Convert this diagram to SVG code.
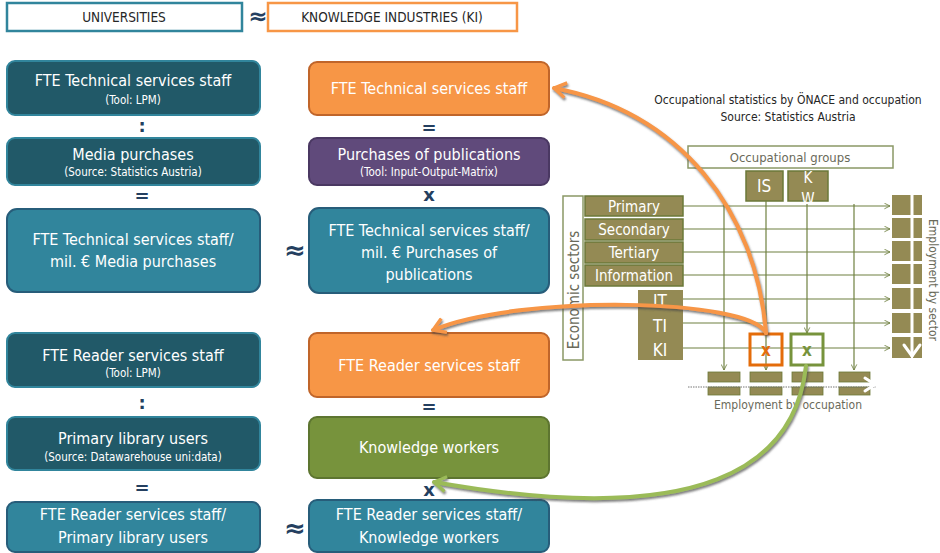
<svg xmlns="http://www.w3.org/2000/svg" width="940" height="553" viewBox="0 0 940 553">
<style>
text{font-family:"Liberation Sans Narrow","DejaVu Sans Condensed","Liberation Sans",sans-serif;text-anchor:middle}
.w{fill:#fff;font-size:16px}
.ws{fill:#fff;font-size:11.5px}
.op{fill:#243f60;font-size:18px;font-weight:bold;font-family:"DejaVu Sans",sans-serif}
.hd{fill:#262626;font-size:13.5px}
.dk{fill:#215968;stroke:#31859c;stroke-width:2}
.md{fill:#31859c;stroke:#275d7a;stroke-width:2}
.or{fill:#f79646;stroke:#c0652a;stroke-width:2}
.pu{fill:#604a7b;stroke:#4a3862;stroke-width:2}
.gr{fill:#77933c;stroke:#5d7530;stroke-width:2}
.ol{fill:#948a54;stroke:#6b7838;stroke-width:1.5}
.olt{fill:#fff;font-size:15px}
.frame{fill:#fff;stroke:#8a9866;stroke-width:1.5}
.grid{stroke:#6f8040;stroke-width:1.2;fill:none}
.gt{fill:#6a6a5a;font-size:13px}
.cap{fill:#262626;font-size:12px}
</style>
<defs>
<marker id="ah" viewBox="0 0 10 10" refX="9" refY="5" markerWidth="7" markerHeight="7" orient="auto" markerUnits="userSpaceOnUse">
<path d="M1,1 L9,5 L1,9" fill="none" stroke="#6f8040" stroke-width="1.2"/>
</marker>
<marker id="ao" viewBox="0 0 12 12" refX="10" refY="6" markerWidth="18" markerHeight="18" orient="auto" markerUnits="userSpaceOnUse">
<path d="M2,1 L10,6 L2,11" fill="none" stroke="#f79646" stroke-width="2.2" stroke-linejoin="round"/>
</marker>
<marker id="ag" viewBox="0 0 12 12" refX="10" refY="6" markerWidth="18" markerHeight="18" orient="auto" markerUnits="userSpaceOnUse">
<path d="M2,1 L10,6 L2,11" fill="none" stroke="#9bbb59" stroke-width="2.2" stroke-linejoin="round"/>
</marker>
<filter id="sh" x="-10%" y="-10%" width="120%" height="120%">
<feDropShadow dx="1" dy="2" stdDeviation="0.8" flood-color="#444" flood-opacity="0.7"/>
</filter>
</defs>

<g id="header">
<rect x="7" y="3" width="235" height="28" fill="#fff" stroke="#31859c" stroke-width="2.5"/>
<text class="hd" x="124" y="22">UNIVERSITIES</text>
<text class="op" x="258" y="24" style="font-size:23px">≈</text>
<rect x="268" y="3" width="249" height="28" fill="#fff" stroke="#f79646" stroke-width="2.5"/>
<text class="hd" x="392" y="22">KNOWLEDGE INDUSTRIES (KI)</text>
</g>

<g id="uni-tech-staff"><rect class="dk" x="7" y="61" width="253" height="54" rx="8"/><text class="w" x="133" y="86">FTE Technical services staff</text><text class="ws" x="133" y="104">(Tool: LPM)</text></g>
<text class="op" x="142" y="132">:</text>
<g id="uni-media"><rect class="dk" x="7" y="138" width="253" height="47" rx="8"/><text class="w" x="133" y="160">Media purchases</text><text class="ws" x="133" y="176">(Source: Statistics Austria)</text></g>
<text class="op" x="142" y="202">=</text>
<g id="uni-ratio1"><rect class="md" x="7" y="209" width="253" height="83" rx="10"/><text class="w" x="133" y="245">FTE Technical services staff/</text><text class="w" x="133" y="267">mil. € Media purchases</text></g>
<text class="op" x="295" y="259" style="font-size:26px">≈</text>

<g id="ki-tech-staff"><rect class="or" x="309" y="62" width="240" height="53" rx="8"/><text class="w" x="429" y="94">FTE Technical services staff</text></g>
<text class="op" x="429" y="134">=</text>
<g id="ki-publications"><rect class="pu" x="309" y="138" width="240" height="47" rx="8"/><text class="w" x="429" y="160">Purchases of publications</text><text class="ws" x="429" y="176">(Tool: Input-Output-Matrix)</text></g>
<text class="op" x="429" y="201">x</text>
<g id="ki-ratio1"><rect class="md" x="309" y="208" width="240" height="85" rx="10"/><text class="w" x="429" y="236">FTE Technical services staff/</text><text class="w" x="429" y="258">mil. € Purchases of</text><text class="w" x="429" y="280">publications</text></g>

<g id="uni-reader-staff"><rect class="dk" x="7" y="333" width="253" height="54" rx="8"/><text class="w" x="133" y="361">FTE Reader services staff</text><text class="ws" x="133" y="377">(Tool: LPM)</text></g>
<text class="op" x="142" y="409">:</text>
<g id="uni-users"><rect class="dk" x="7" y="417" width="253" height="53" rx="8"/><text class="w" x="133" y="444">Primary library users</text><text class="ws" x="133" y="461">(Source: Datawarehouse uni:data)</text></g>
<text class="op" x="142" y="494">=</text>
<g id="uni-ratio2"><rect class="md" x="7" y="502" width="253" height="50" rx="8"/><text class="w" x="133" y="520">FTE Reader services staff/</text><text class="w" x="133" y="543">Primary library users</text></g>
<text class="op" x="295" y="537" style="font-size:26px">≈</text>

<g id="ki-reader-staff"><rect class="or" x="309" y="333" width="240" height="64" rx="8"/><text class="w" x="429" y="371">FTE Reader services staff</text></g>
<text class="op" x="429" y="413">=</text>
<g id="ki-knowledge-workers"><rect class="gr" x="309" y="417" width="240" height="61" rx="8"/><text class="w" x="429" y="453">Knowledge workers</text></g>
<text class="op" x="429" y="496">x</text>
<g id="ki-ratio2"><rect class="md" x="309" y="500" width="240" height="52" rx="8"/><text class="w" x="429" y="520">FTE Reader services staff/</text><text class="w" x="429" y="543">Knowledge workers</text></g>

<g id="matrix">
<text class="cap" x="788" y="104">Occupational statistics by ÖNACE and occupation</text>
<text class="cap" x="788" y="121">Source: Statistics Austria</text>
<rect class="frame" x="688" y="146" width="205" height="22"/>
<text class="gt" x="790" y="162">Occupational groups</text>
<rect class="ol" x="746" y="171" width="37" height="30"/>
<text class="olt" x="764" y="192" style="font-size:17px">IS</text>
<rect class="ol" x="788" y="171" width="40" height="30"/>
<text class="olt" x="808" y="183">K</text>
<text class="olt" x="808" y="204">W</text>

<rect class="frame" x="563" y="196" width="20" height="164"/>
<text class="gt" transform="translate(579,290) rotate(-90)" style="font-size:15px">Economic sectors</text>
<rect class="ol" x="585" y="196" width="98" height="20"/><text class="olt" x="634" y="212">Primary</text>
<rect class="ol" x="585" y="219" width="98" height="21"/><text class="olt" x="634" y="235">Secondary</text>
<rect class="ol" x="585" y="242" width="98" height="21"/><text class="olt" x="634" y="258">Tertiary</text>
<rect class="ol" x="585" y="265" width="98" height="21"/><text class="olt" x="634" y="281">Information</text>
<rect x="638" y="290" width="45" height="70" fill="#948a54"/>
<text class="olt" x="660" y="307" style="font-size:17px">IT</text>
<text class="olt" x="660" y="332" style="font-size:17px">TI</text>
<text class="olt" x="660" y="356" style="font-size:17px">KI</text>

<g class="grid" marker-end="url(#ah)">
<line x1="683" y1="206" x2="890" y2="206"/>
<line x1="683" y1="229" x2="890" y2="229"/>
<line x1="683" y1="252" x2="890" y2="252"/>
<line x1="683" y1="275" x2="890" y2="275"/>
<line x1="683" y1="299" x2="890" y2="299"/>
<line x1="683" y1="323" x2="890" y2="323"/>
<line x1="683" y1="348" x2="890" y2="348"/>
<line x1="724" y1="204" x2="724" y2="370"/>
<line x1="766" y1="201" x2="766" y2="370"/>
<line x1="807" y1="204" x2="807" y2="333"/>
<line x1="854" y1="204" x2="854" y2="370"/>
</g>

<g fill="#948a54">
<rect x="892" y="195" width="19" height="20"/><rect x="913" y="195" width="9" height="20"/>
<rect x="892" y="218" width="19" height="20"/><rect x="913" y="218" width="9" height="20"/>
<rect x="892" y="241" width="19" height="20"/><rect x="913" y="241" width="9" height="20"/>
<rect x="892" y="264" width="19" height="20"/><rect x="913" y="264" width="9" height="20"/>
<rect x="892" y="288" width="19" height="21"/><rect x="913" y="288" width="9" height="21"/>
<rect x="892" y="313" width="19" height="20"/><rect x="913" y="313" width="9" height="20"/>
<rect x="892" y="337" width="19" height="21"/><rect x="913" y="337" width="9" height="21"/>
</g>
<g stroke="#fff" stroke-width="3" fill="none" stroke-linecap="round" stroke-linejoin="round">
<line x1="912" y1="193" x2="912" y2="356"/>
<path d="M904,345 L912,356 L920,345"/>
</g>
<text class="gt" transform="translate(929,280) rotate(90)" style="font-size:12px">Employment by sector</text>

<rect x="750" y="334" width="32" height="31" fill="none" stroke="#e46c0a" stroke-width="3"/>
<text x="766" y="356" fill="#e46c0a" font-size="17" font-weight="bold">x</text>
<rect x="791" y="334" width="32" height="31" fill="none" stroke="#77933c" stroke-width="3"/>
<text x="807" y="356" fill="#77933c" font-size="17" font-weight="bold">x</text>

<g fill="#948a54" stroke="#6b7838" stroke-width="0.8">
<rect x="708" y="372" width="32" height="10"/><rect x="708" y="387" width="32" height="8"/>
<rect x="750" y="372" width="32" height="10"/><rect x="750" y="387" width="32" height="8"/>
<rect x="792" y="372" width="31" height="10"/><rect x="792" y="387" width="31" height="8"/>
<rect x="839" y="372" width="31" height="10"/><rect x="839" y="387" width="31" height="8"/>
</g>
<line x1="688" y1="387" x2="876" y2="387" stroke="#777" stroke-width="1" stroke-dasharray="1.5 1"/>
<g stroke="#fff" stroke-width="3" fill="none" stroke-linecap="round" stroke-linejoin="round">
<line x1="690" y1="384.5" x2="874" y2="384.5"/>
<path d="M865,378 L875,384.5 L865,391"/>
</g>
<text class="gt" x="788" y="409" style="font-size:12px">Employment by occupation</text>
</g>

<g id="connectors" fill="none" stroke-width="4" stroke-linecap="round" filter="url(#sh)">
<path d="M766,333 C756,210 680,112 554,88" stroke="#f79646" marker-end="url(#ao)"/>
<path d="M766,333 C750,298 520,294 433,330" stroke="#f79646" marker-end="url(#ao)"/>
<path d="M806,366 C795,465 705,530 434,482" stroke="#9bbb59" marker-end="url(#ag)"/>
</g>
</svg>
